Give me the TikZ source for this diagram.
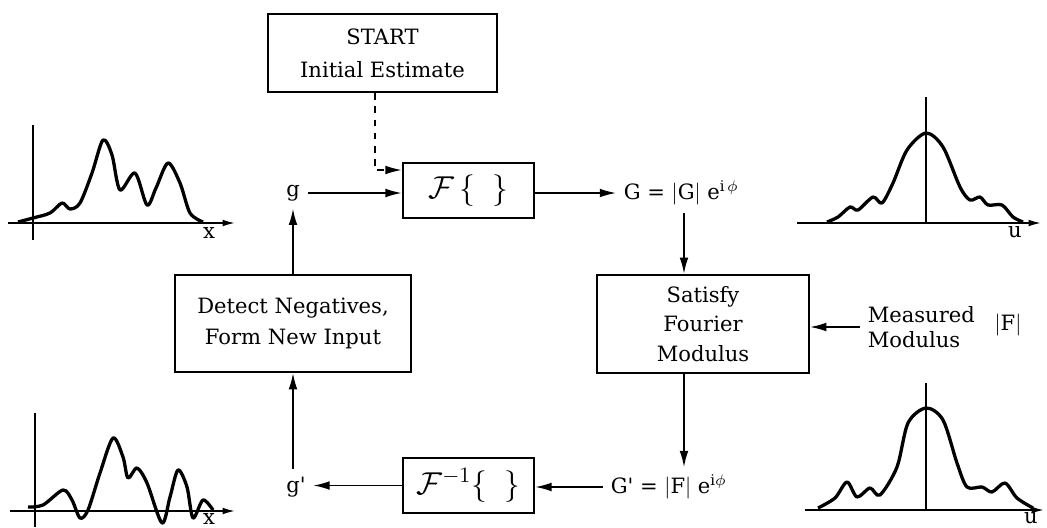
\documentclass[tikz,border=0pt]{standalone}
\usepackage{fontspec}
\setmainfont{DejaVu Serif}
\usetikzlibrary{arrows.meta}
\begin{document}
\begin{tikzpicture}[x=0.016cm,y=-0.016cm,
  every node/.style={font=\fontsize{9.6}{14}\selectfont},
  box/.style={draw,line width=1.1pt,align=center,inner sep=0pt},
  arr/.style={line width=0.7pt,-{Latex[length=2.6mm,width=1.4mm]}},
  axis/.style={line width=0.8pt},
  curve/.style={line width=1.5pt,line join=round}]
\useasboundingbox (0,0) rectangle (1047,527);
% flow chart
\node[box,minimum width=3.66cm,minimum height=1.25cm] (start) at (382.5,53) {START\\[1pt]Initial Estimate};
\node[box,minimum width=2.10cm,minimum height=0.88cm,font=\Large] (fwd) at (468.5,190.5) {$\mathcal{F}\,\{\;\;\}$};
\node (g) at (293,193) {g};
\node[anchor=west] (G) at (616,193) {G = $|$G$|$ e\textsuperscript{i\,$\phi$}};
\node[box,minimum width=3.39cm,minimum height=1.57cm,font=\fontsize{9.6}{13.5}\selectfont] (sat) at (703,324) {Satisfy\\Fourier\\Modulus};
\node[anchor=west,align=left,font=\fontsize{9.6}{11.5}\selectfont] (meas) at (860,327) {Measured\\Modulus};
\node (absF) at (1008,325) {$|$F$|$};
\node[box,minimum width=2.10cm,minimum height=0.88cm,font=\Large] (inv) at (468.5,485.5) {$\mathcal{F}^{-1}\{\;\;\}$};
\node[anchor=west] (Gp) at (603,487) {G\textquotesingle{} = $|$F$|$ e\textsuperscript{i$\phi$}};
\node (gp) at (296,487) {g\textquotesingle};
\node[box,minimum width=3.78cm,minimum height=1.55cm] (det) at (293,323.5) {Detect Negatives,\\Form New Input};
\coordinate (dsh) at (375,170);
\coordinate (mid) at (684,0);
\draw[arr,dashed] (dsh |- start.south) |- (dsh -| fwd.west);
\draw[arr] (g) -- (g -| fwd.west);
\draw[arr] (fwd.east |- G) -- (G.west);
\draw[arr] (mid |- G.south) -- (mid |- sat.north);
\draw[arr] (meas.west) -- (meas.west -| sat.east);
\draw[arr] (mid |- sat.south) -- (mid |- Gp.north);
\draw[arr] (Gp.west) -- (Gp.west -| inv.east);
\draw[arr] (inv.west) -- (inv.west -| gp.east);
\draw[arr] (det.south |- gp.north) -- (det.south);
\draw[arr] (det.north) -- (det.north |- g.south);
% object, top left
\draw[axis,-{Latex[length=2mm,width=1.1mm]}] (8,223) -- (235,223);
\draw[axis] (33,125) -- (33,240);
\node[inner sep=0pt] (xa) at (209,233) {x};
\draw[curve] plot[smooth,tension=0.5] coordinates {(18,222) (33,218) (50,213) (62,203) (70,209) (80,203) (92,173) (103,140) (112,155) (120,190) (135,173) (147,205) (156,188) (168,163) (180,183) (190,213) (203,222)};
% new estimate, bottom left
\draw[axis,-{Latex[length=2mm,width=1.1mm]}] (10,511) -- (235,511);
\draw[axis] (35,413) -- (35,527);
\node[inner sep=0pt] (xb) at (209,519) {x};
\draw[curve] plot[smooth,tension=0.5] coordinates {(28,507) (43,505) (63,490) (72,500) (80,518) (88,510) (100,473) (113,438) (123,457) (128,478) (137,468) (147,483) (162,523) (170,497) (178,470) (187,487) (193,518) (203,500) (213,510)};
% modulus, top right
\draw[axis,-{Latex[length=2mm,width=1.1mm]}] (797,223) -- (1041,223);
\draw[axis] (926,97) -- (926,223);
\node[inner sep=0pt] (ua) at (1015,232) {u};
\draw[curve] plot[smooth,tension=0.5] coordinates {(827,222) (838,217) (850,207) (858,210) (873,197) (882,203) (893,183) (907,150) (926,133) (943,147) (960,187) (970,200) (980,197) (988,205) (1002,205) (1013,217) (1023,222)};
% modulus, bottom right
\draw[axis,-{Latex[length=2mm,width=1.1mm]}] (805,510) -- (1044,510);
\draw[axis] (926,383) -- (926,510);
\node[inner sep=0pt] (ub) at (1031,518) {u};
\draw[curve] plot[smooth,tension=0.5] coordinates {(818,508) (835,498) (847,482) (857,497) (870,488) (880,495) (897,467) (908,423) (926,408) (943,420) (957,463) (967,487) (982,487) (992,492) (1005,483) (1017,498) (1033,508)};
\end{tikzpicture}
\end{document}
